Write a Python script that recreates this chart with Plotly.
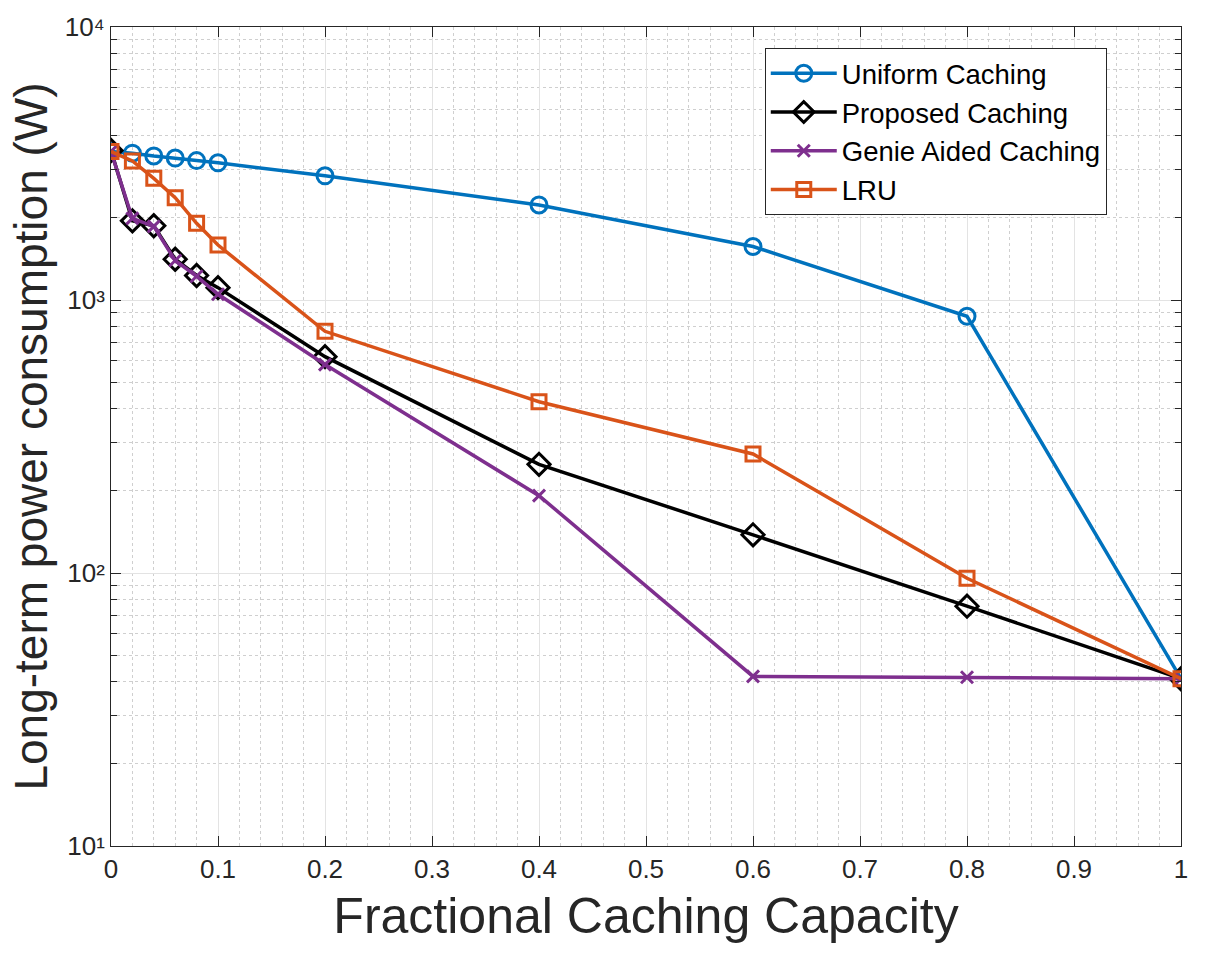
import plotly.graph_objects as go

x_vals = [0, 0.02, 0.04, 0.06, 0.08, 0.1, 0.2, 0.4, 0.6, 0.8, 1.0]
uniform = [3500, 3450, 3370, 3310, 3240, 3180, 2850, 2230, 1570, 872, 41]
proposed = [3530, 1950, 1870, 1410, 1230, 1110, 620, 250, 138, 75.6, 41]
genie = [3500, 1990, 1860, 1395, 1222, 1050, 580, 192, 41.8, 41.5, 41]
lru = [3500, 3230, 2790, 2370, 1910, 1590, 768, 424, 273, 95.7, 41]

names = ["Uniform Caching", "Proposed Caching", "Genie Aided Caching", "LRU"]
colors = ["#0072BD", "#000000", "#7E2F8E", "#D95319"]
symbols = ["circle-open", "diamond-open", "x-thin-open", "square-open"]
sizes = [16, 17, 12, 14]
series = [uniform, proposed, genie, lru]

y_tickvals = [10, 100, 1000, 10000]
y_ticktext = ["10\u00b9", "10\u00b2", "10\u00b3", "10\u2074"]
x_tickvals = [0, 0.1, 0.2, 0.3, 0.4, 0.5, 0.6, 0.7, 0.8, 0.9, 1]
x_ticktext = ["0", "0.1", "0.2", "0.3", "0.4", "0.5", "0.6", "0.7", "0.8", "0.9", "1"]

fig = go.Figure()
for name, col, sym, sz, ys in zip(names, colors, symbols, sizes, series):
    fig.add_trace(go.Scatter(
        x=x_vals, y=ys, name=name, mode="lines+markers",
        line=dict(color=col, width=3.5),
        marker=dict(symbol=sym, size=sz, color=col, line=dict(color=col, width=3)),
    ))

font_fam = "Liberation Sans, Arial, sans-serif"
fig.update_layout(
    width=1221, height=953,
    margin=dict(l=111, r=40, t=22, b=107),
    paper_bgcolor="white", plot_bgcolor="white",
    font=dict(family=font_fam, color="#262626", size=26),
    showlegend=True,
    legend=dict(
        x=0.611, y=0.9745, xanchor="left", yanchor="top",
        bgcolor="white", bordercolor="#262626", borderwidth=1,
        font=dict(size=27.5, color="#000000", family=font_fam),
        itemwidth=66, tracegroupgap=0,
    ),
)
fig.update_xaxes(
    range=[0, 1], tickmode="array", tickvals=x_tickvals, ticktext=x_ticktext,
    showline=True, linecolor="#262626", linewidth=1, mirror="ticks",
    ticks="inside", ticklen=10, tickcolor="#262626",
    showgrid=True, gridcolor="#e3e3e3", gridwidth=1,
    minor=dict(dtick=0.02, showgrid=True, gridcolor="#cfcfcf", griddash="dot", gridwidth=1),
    zeroline=False,
    title=dict(text="Fractional Caching Capacity", font=dict(size=50, color="#262626"), standoff=14),
)
fig.update_xaxes(tickfont_size=26, tickfont_color="#262626", tickfont_family=font_fam)
fig.update_yaxes(
    type="log", range=[1, 4], tickmode="array", tickvals=y_tickvals, ticktext=y_ticktext,
    showline=True, linecolor="#262626", linewidth=1, mirror="ticks",
    ticks="inside", ticklen=10, tickcolor="#262626",
    showgrid=True, gridcolor="#e3e3e3", gridwidth=1,
    minor=dict(dtick="D1", ticks="inside", ticklen=6,
               tickcolor="#262626", showgrid=True, gridcolor="#cfcfcf",
               griddash="dot", gridwidth=1),
    zeroline=False,
    title=dict(text="Long-term power consumption (W)", font=dict(size=46, color="#262626"), standoff=2),
)
fig.update_yaxes(tickfont_size=26, tickfont_color="#262626", tickfont_family=font_fam)

fig.write_html("out.html")
